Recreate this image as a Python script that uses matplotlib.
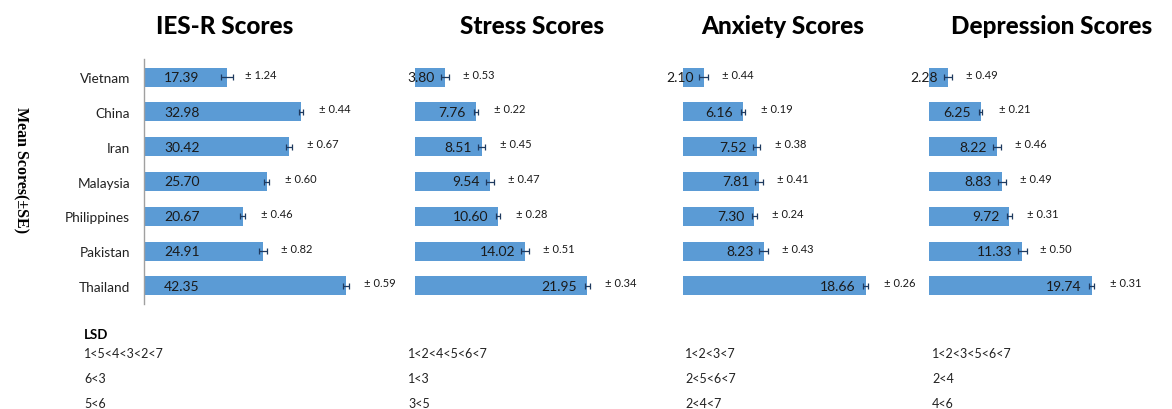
import matplotlib
matplotlib.use("Agg")
import matplotlib.pyplot as plt

countries = ["Vietnam", "China", "Iran", "Malaysia", "Philippines", "Pakistan", "Thailand"]
titles = ["IES-R Scores", "Stress Scores", "Anxiety Scores", "Depression Scores"]
ies_r = [17.39, 32.98, 30.42, 25.70, 20.67, 24.91, 42.35]
ies_r_se = [1.24, 0.44, 0.67, 0.60, 0.46, 0.82, 0.59]
stress = [3.80, 7.76, 8.51, 9.54, 10.60, 14.02, 21.95]
stress_se = [0.53, 0.22, 0.45, 0.47, 0.28, 0.51, 0.34]
anxiety = [2.10, 6.16, 7.52, 7.81, 7.30, 8.23, 18.66]
anxiety_se = [0.44, 0.19, 0.38, 0.41, 0.24, 0.43, 0.26]
depression = [2.28, 6.25, 8.22, 8.83, 9.72, 11.33, 19.74]
depression_se = [0.49, 0.21, 0.46, 0.49, 0.31, 0.50, 0.31]
lsd_ies_r = ["1<5<4<3<2<7", "6<3", "5<6"]
lsd_stress = ["1<2<4<5<6<7", "1<3", "3<5"]
lsd_anxiety = ["1<2<3<7", "2<5<6<7", "2<4<7"]
lsd_depression = ["1<2<3<5<6<7", "2<4", "4<6"]

W, H = 1172, 410
BLUE = "#5b9bd5"
SANS = ["Lato", "DejaVu Sans"]

fig = plt.figure(figsize=(W / 100, H / 100), dpi=100)
fig.patch.set_facecolor("white")

# (left px, right px, xmax, title centre px)
panels = [
    (144, 380, 49.5, 225),
    (415, 660, 31.2, 532),
    (683, 910, 23.2, 783),
    (929, 1160, 28.0, 1052),
]
series = [(ies_r, ies_r_se), (stress, stress_se), (anxiety, anxiety_se), (depression, depression_se)]
lsd = [lsd_ies_r, lsd_stress, lsd_anxiety, lsd_depression]
lsd_x = [84, 408, 685, 932]

top, bottom = 60, 305
for i, ((x0, x1, xmax, tx), (vals, errs)) in enumerate(zip(panels, series)):
    ax = fig.add_axes([x0 / W, 1 - bottom / H, (x1 - x0) / W, (bottom - top) / H])
    ypos = range(len(countries))
    ax.barh(ypos, vals, height=0.55, color=BLUE, xerr=errs,
            error_kw=dict(ecolor="#1f3a5f", elinewidth=0.9, capsize=2.5, capthick=0.9))
    ax.set_xlim(0, xmax)
    ax.set_ylim(6.52, -0.52)
    ax.set_xticks([])
    for s in ["top", "right", "bottom"]:
        ax.spines[s].set_visible(False)
    if i == 0:
        ax.spines["left"].set_color("#a0a0a0")
        ax.spines["left"].set_linewidth(1.0)
        ax.set_yticks(list(ypos))
        ax.set_yticklabels(countries, fontsize=9.8, family=SANS, color="#222222")
        ax.tick_params(axis="y", length=0, pad=10)
    else:
        ax.spines["left"].set_visible(False)
        ax.set_yticks([])
    for y, (v, e) in enumerate(zip(vals, errs)):
        if i == 0:
            ax.annotate(f"{v:.2f}", (0, y), xytext=(20, 0), textcoords="offset pixels",
                        ha="left", va="center", fontsize=10, family=SANS, color="#1a1a1a")
        else:
            ax.annotate(f"{v:.2f}", (v, y), xytext=(-10, 0), textcoords="offset pixels",
                        ha="right", va="center", fontsize=10, family=SANS, color="#1a1a1a")
        ax.annotate(f"\u00b1 {e:.2f}", (v, y), xytext=(18, 3), textcoords="offset pixels",
                    ha="left", va="center", fontsize=8, family=SANS, color="#1a1a1a",
                    annotation_clip=False)
    fig.text(tx / W, 1 - 27 / H, titles[i], ha="center", va="center",
             fontsize=17.5, fontweight="black", family=SANS)
    for k, line in enumerate(lsd[i]):
        fig.text(lsd_x[i] / W, 1 - (354 + 25 * k) / H, line, ha="left", va="center",
                 fontsize=9, family=SANS, color="#222222")

fig.text(84 / W, 1 - 335 / H, "LSD", ha="left", va="center", fontsize=9.5,
         fontweight="bold", family=SANS)
fig.text(21 / W, 1 - 170 / H, "Mean Scores(\u00b1SE)", rotation=270, ha="center", va="center",
         fontsize=11.5, fontweight="bold", family=["Liberation Serif", "DejaVu Serif"])

fig.savefig("out.png", dpi=100)
